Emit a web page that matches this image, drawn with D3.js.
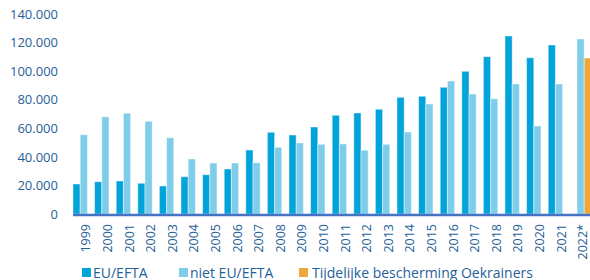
<!DOCTYPE html>
<html>
<head>
<meta charset="utf-8">
<script src="https://cdn.jsdelivr.net/npm/d3@7"></script>
<style>
  body { margin: 0; background: #fff; }
  svg { display: block; font-family: 'Open Sans', sans-serif; }
  .tick-label, .legend text { fill: #1f6199; }
</style>
</head>
<body>
<svg id="chart" width="590" height="280"></svg>
<script>
const years = ['1999','2000','2001','2002','2003','2004','2005','2006','2007','2008','2009','2010',
  '2011','2012','2013','2014','2015','2016','2017','2018','2019','2020','2021','2022*']

const euEfta = [21000, 22600, 23100, 21500, 19600, 26100, 27500, 31500, 44800, 57200, 55300, 60900,
  69100, 70700, 73300, 81700, 82400, 88700, 99900, 110100, 124600, 109400, 118300, null]

const nietEuEfta = [55500, 68000, 70500, 64900, 53400, 38500, 35700, 35700, 35900, 46700, 49700, 48800,
  49000, 44600, 48800, 57400, 77000, 93100, 84000, 80700, 91000, 61600, 91000, 122500]

const oekrainers = [null, null, null, null, null, null, null, null, null, null, null, null,
  null, null, null, null, null, null, null, null, null, null, null, 109200]

const seriesKeys = ['EU/EFTA', 'niet EU/EFTA', 'Tijdelijke bescherming Oekrainers']
const colors = ['#00a3da', '#7fcde8', '#eda83c']
const yTicks = [0, 20000, 40000, 60000, 80000, 100000, 120000, 140000]

const svg = d3.select('#chart')

const margin = { left: 73, top: 14, bottom: 66 },
  width = 591.4,
  height = 280

let x0 = d3.scaleBand()
  .domain(years)
  .range([ margin.left, width ])
  .padding(0)

let x1 = d3.scaleBand()
  .domain(seriesKeys)
  .range([ 0, x0.bandwidth() ])
  .padding(0)

let y = d3.scaleLinear()
  .domain([ 0, 140000 ])
  .range([ height - margin.bottom, margin.top ])

let fmt = d => d === 0 ? '0' : d3.format(',')(d).replace(/,/g, '.')

// y labels (no axis line)
svg.append('g')
  .selectAll('text')
  .data(yTicks)
  .enter().append('text')
    .attr('class', 'tick-label')
    .attr('x', 58)
    .attr('y', d => y(d))
    .attr('dy', '0.36em')
    .attr('text-anchor', 'end')
    .style('font-size', '13px')
    .text(fmt)

// bars
let rows = years.map((yr, i) => ({ year: yr, values: [ euEfta[i], nietEuEfta[i], oekrainers[i] ] }))

let groups = svg.append('g')
  .selectAll('g')
  .data(rows)
  .enter().append('g')
    .attr('transform', d => `translate(${ x0(d.year) },0)`)

groups.selectAll('rect')
  .data(d => d.values.map((v, k) => ({ key: seriesKeys[k], k: k, value: v })).filter(d => d.value != null))
  .enter().append('rect')
    .attr('x', d => x1(d.key))
    .attr('y', d => y(d.value))
    .attr('width', x1.bandwidth())
    .attr('height', d => y(0) - y(d.value))
    .style('fill', d => colors[d.k])
    .style('stroke', 'rgba(255,255,255,0.45)')
    .style('stroke-width', 1)

// baseline
svg.append('line')
  .attr('x1', margin.left)
  .attr('x2', width)
  .attr('y1', y(0) + 1)
  .attr('y2', y(0) + 1)
  .style('stroke', '#4472c4')
  .style('stroke-width', 2.5)

// x labels, rotated
let xAxis = d3.axisBottom(x0).tickSize(0).tickPadding(0)

let gx = svg.append('g')
  .attr('transform', `translate(0,${ y(0) + 10 })`)
  .call(xAxis)

gx.select('.domain').remove()

gx.selectAll('text')
  .attr('class', 'tick-label')
  .attr('transform', 'rotate(-90)')
  .attr('x', 0)
  .attr('y', 2)
  .attr('dy', '0.36em')
  .attr('text-anchor', 'end')
  .style('font-size', '12.5px')
  .style('font-family', "'Open Sans', sans-serif")

// legend
let legendPos = [ 82, 179, 299 ]

let legend = svg.append('g')
  .attr('class', 'legend')
  .selectAll('g')
  .data(seriesKeys)
  .enter().append('g')
    .attr('transform', (d, i) => `translate(${ legendPos[i] },268)`)

legend.append('rect')
  .attr('width', 9)
  .attr('height', 9)
  .style('fill', (d, i) => colors[i])

legend.append('text')
  .attr('x', (d, i) => i === 2 ? 13 : 11)
  .attr('y', 9.5)
  .style('font-size', '14px')
  .text(d => d)
</script>
</body>
</html>
